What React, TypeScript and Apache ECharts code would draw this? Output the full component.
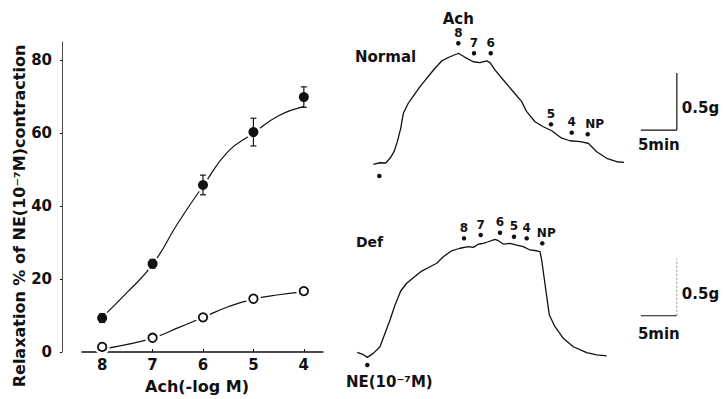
import React, { useEffect, useRef } from "react";
import * as echarts from "echarts";

// Dose–response: Ach concentration (-log M) vs relaxation (% of NE contraction)
const doses = [8, 7, 6, 5, 4];
const normalRelax = [9.3, 24.2, 45.8, 60.3, 69.9];
const normalSem = [1.2, 1.2, 2.7, 3.8, 2.8];
const defRelax = [1.4, 3.9, 9.5, 14.6, 16.7];
const defSem = [0.6, 0.8, 0.9, 0.8, 0.8];

// Fitted curves
const fitDoses = [8, 7.5, 7, 6.5, 6, 5.5, 5, 4.5, 4];
const normalFit = [9.5, 16.4, 24.0, 35.3, 45.5, 55.0, 60.0, 64.8, 67.3];
const defFit = [0.8, 2.1, 3.8, 6.6, 9.5, 12.4, 14.5, 15.7, 16.5];

const yTicks = [0, 20, 40, 60, 80];

// Tension recordings (time in min, tension in g)
const normalTime = [2.54, 3.47, 4.26, 4.86, 5.42, 5.88, 6.35, 6.71, 7.4, 8.19, 9.03, 9.96, 11.11, 12.04, 13.19, 14.13, 14.35, 15.28, 16.43, 17.36, 18.29, 18.75, 19.44, 20.6, 21.99, 23.15, 23.85, 25.0, 26.15, 27.32, 28.71, 29.86, 31.25, 32.4, 33.57, 34.96, 36.35, 37.36];
const normalForce = [0.225, 0.239, 0.237, 0.278, 0.336, 0.424, 0.541, 0.673, 0.761, 0.833, 0.906, 0.98, 1.068, 1.132, 1.169, 1.193, 1.199, 1.164, 1.125, 1.117, 1.132, 1.117, 1.053, 0.965, 0.862, 0.775, 0.687, 0.599, 0.555, 0.52, 0.454, 0.432, 0.424, 0.41, 0.336, 0.278, 0.248, 0.243];

const defTime = [0.32, 1.07, 1.71, 2.54, 3.47, 4.17, 4.86, 5.56, 6.35, 7.18, 8.1, 9.26, 10.42, 11.35, 12.26, 13.43, 14.58, 15.74, 16.43, 17.13, 17.82, 18.51, 19.44, 19.9, 20.6, 21.53, 22.46, 23.38, 24.31, 25.24, 25.69, 25.93, 26.25, 26.63, 26.99, 27.78, 28.93, 30.32, 32.18, 33.57, 34.96];
const defForce = [0.155, 0.138, 0.111, 0.146, 0.204, 0.322, 0.439, 0.57, 0.693, 0.761, 0.81, 0.868, 0.906, 0.936, 0.994, 1.046, 1.068, 1.082, 1.076, 1.103, 1.111, 1.125, 1.146, 1.134, 1.105, 1.111, 1.096, 1.082, 1.053, 1.046, 1.038, 0.965, 0.818, 0.643, 0.482, 0.38, 0.278, 0.204, 0.152, 0.132, 0.123];

// Drug additions on each recording
const doseLabels = ["8", "7", "6", "5", "4", "NP"];
const normalDoseTime = [14.35, 16.53, 18.85, 27.22, 30.1, 32.32];
const normalDoseForce = [1.287, 1.199, 1.199, 0.576, 0.503, 0.489];
const defDoseTime = [15.14, 17.46, 20.14, 22.08, 23.85, 26.01];
const defDoseForce = [1.155, 1.184, 1.204, 1.169, 1.155, 1.111];
const normalNe = [3.38, 0.123];
const defNe = [1.71, 0.044];

// Calibration bars
const barMinutes = 5;
const barGrams = 0.5;

const INK = "#111111";
const FONT = "DejaVu Sans";

const txt = (size: number) => ({
  fontFamily: FONT,
  fontSize: size,
  fontWeight: "bold" as const,
  color: INK,
});

function errorBars(values: number[], sems: number[]) {
  return {
    type: "custom",
    xAxisIndex: 0,
    yAxisIndex: 0,
    z: 4,
    data: doses.map((d, i) => [d, values[i], sems[i]]),
    encode: { x: 0, y: 1 },
    renderItem: (_p: any, api: any) => {
      const x = api.value(0);
      const y = api.value(1);
      const e = api.value(2);
      const top = api.coord([x, y + e]);
      const bot = api.coord([x, y - e]);
      const w = 3;
      const style = { stroke: INK, lineWidth: 1.2 };
      return {
        type: "group",
        children: [
          { type: "line", shape: { x1: top[0], y1: top[1], x2: bot[0], y2: bot[1] }, style },
          { type: "line", shape: { x1: top[0] - w, y1: top[1], x2: top[0] + w, y2: top[1] }, style },
          { type: "line", shape: { x1: bot[0] - w, y1: bot[1], x2: bot[0] + w, y2: bot[1] }, style },
        ],
      };
    },
  };
}

function doseMarks(times: number[], forces: number[], gi: number, npShift: number, withAch: boolean) {
  return {
    type: "scatter",
    xAxisIndex: gi,
    yAxisIndex: gi,
    symbol: "circle",
    symbolSize: 4.5,
    itemStyle: { color: INK, opacity: 1 },
    z: 5,
    data: times.map((t, i) => ({
      name: doseLabels[i],
      value: [t, forces[i]],
      label: doseLabels[i] === "NP" ? { offset: [npShift, 0] } : undefined,
    })),
    label: {
      show: true,
      position: "top",
      distance: 2,
      ...txt(12),
      lineHeight: 12,
      formatter: (p: any) =>
        withAch && p.name === "8" ? "{ach|Ach}\n{num|8}" : p.name,
      rich: {
        ach: { ...txt(15), lineHeight: 17 },
        num: { ...txt(12), lineHeight: 12 },
      },
    },
  };
}

function calibration(gi: number, origin: number[], dottedVertical: boolean, minGap: number) {
  const [t0, g0] = origin;
  const t1 = t0 + barMinutes;
  const g1 = g0 + barGrams;
  const solid = { color: INK, width: 1.2 };
  return [
    {
      type: "line",
      xAxisIndex: gi,
      yAxisIndex: gi,
      symbol: "none",
      lineStyle: solid,
      data: [[t0, g0], [t1, g0]],
    },
    {
      type: "line",
      xAxisIndex: gi,
      yAxisIndex: gi,
      symbol: "none",
      lineStyle: dottedVertical
        ? { color: "#8a8a8a", width: 1, type: [2, 2] }
        : solid,
      data: [[t1, g0], [t1, g1]],
    },
    {
      type: "scatter",
      xAxisIndex: gi,
      yAxisIndex: gi,
      symbolSize: 0,
      itemStyle: { opacity: 1 },
      data: [
        {
          value: [(t0 + t1) / 2, g0],
          label: { show: true, position: "bottom", distance: minGap, formatter: "5min", ...txt(15) },
        },
        {
          value: [t1, g0 + barGrams * 0.38],
          label: { show: true, position: "right", distance: 5, formatter: "0.5g", ...txt(15) },
        },
      ],
    },
  ];
}

const traceAxisX = (gi: number) => ({
  gridIndex: gi,
  type: "value",
  min: 0,
  max: 50,
  show: false,
});
const traceAxisY = (gi: number) => ({
  gridIndex: gi,
  type: "value",
  min: 0,
  max: 1.5,
  show: false,
});

const option: any = {
  animation: false,
  backgroundColor: "#ffffff",
  title: [
    { text: "Normal", left: 355, top: 49, padding: 0, textStyle: txt(15) },
    { text: "Def", left: 356, top: 235, padding: 0, textStyle: txt(14) },
  ],
  graphic: [
    {
      type: "text",
      x: 19,
      y: 216,
      rotation: Math.PI / 2,
      style: {
        text: "Relaxation % of NE(10⁻⁷M)contraction",
        fontFamily: FONT,
        fontSize: 16,
        fontWeight: "bold",
        fill: INK,
        align: "center",
        verticalAlign: "middle",
      },
    },
  ],
  grid: [
    { left: 82, top: 42, width: 241, height: 315.7 },
    { left: 355, top: 19, width: 360, height: 171 },
    { left: 355, top: 199, width: 360, height: 171 },
  ],
  xAxis: [
    {
      gridIndex: 0,
      type: "value",
      min: 3.62,
      max: 8.4,
      inverse: true,
      name: "Ach(-log M)",
      nameLocation: "middle",
      nameGap: 26,
      nameTextStyle: { ...txt(16), padding: [0, 11, 0, 0] },
      axisLine: { lineStyle: { color: INK, width: 1.5 } },
      axisTick: { inside: true, length: 3, customValues: doses, lineStyle: { color: INK } },
      axisLabel: { customValues: doses, margin: 5, ...txt(15) },
      splitLine: { show: false },
    },
    traceAxisX(1),
    traceAxisX(2),
  ],
  yAxis: [
    {
      gridIndex: 0,
      type: "value",
      min: 0,
      max: 85,
      offset: 20,
      axisLine: { show: true, lineStyle: { color: "#4a4a4a", width: 1 } },
      axisTick: { show: true, length: 2, customValues: yTicks, lineStyle: { color: INK } },
      axisLabel: { customValues: yTicks, margin: 10, ...txt(15) },
      splitLine: { show: false },
    },
    traceAxisY(1),
    traceAxisY(2),
  ],
  series: [
    {
      type: "line",
      xAxisIndex: 0,
      yAxisIndex: 0,
      smooth: true,
      symbol: "none",
      z: 2,
      lineStyle: { color: INK, width: 1.2 },
      data: fitDoses.map((d, i) => [d, normalFit[i]]),
    },
    {
      type: "line",
      xAxisIndex: 0,
      yAxisIndex: 0,
      smooth: true,
      symbol: "none",
      z: 2,
      lineStyle: { color: INK, width: 1.2 },
      data: fitDoses.map((d, i) => [d, defFit[i]]),
    },
    {
      type: "scatter",
      xAxisIndex: 0,
      yAxisIndex: 0,
      symbol: "circle",
      symbolSize: 15,
      z: 3,
      itemStyle: { color: "#ffffff", opacity: 1 },
      silent: true,
      data: [
        ...doses.map((d, i) => [d, normalRelax[i]]),
        ...doses.map((d, i) => [d, defRelax[i]]),
      ],
    },
    errorBars(normalRelax, normalSem),
    errorBars(defRelax, defSem),
    {
      type: "scatter",
      xAxisIndex: 0,
      yAxisIndex: 0,
      symbol: "circle",
      symbolSize: 10,
      z: 5,
      itemStyle: { color: INK, opacity: 1 },
      data: doses.map((d, i) => [d, normalRelax[i]]),
    },
    {
      type: "scatter",
      xAxisIndex: 0,
      yAxisIndex: 0,
      symbol: "circle",
      symbolSize: 8.5,
      z: 5,
      itemStyle: { color: "#ffffff", borderColor: INK, borderWidth: 1.8, opacity: 1 },
      data: doses.map((d, i) => [d, defRelax[i]]),
    },
    // Recordings
    {
      type: "line",
      xAxisIndex: 1,
      yAxisIndex: 1,
      symbol: "none",
      lineStyle: { color: INK, width: 1.3 },
      data: normalTime.map((t, i) => [t, normalForce[i]]),
    },
    {
      type: "line",
      xAxisIndex: 2,
      yAxisIndex: 2,
      symbol: "none",
      lineStyle: { color: INK, width: 1.3 },
      data: defTime.map((t, i) => [t, defForce[i]]),
    },
    doseMarks(normalDoseTime, normalDoseForce, 1, 7, true),
    doseMarks(defDoseTime, defDoseForce, 2, 4, false),
    {
      type: "scatter",
      xAxisIndex: 1,
      yAxisIndex: 1,
      symbolSize: 4.5,
      itemStyle: { color: INK, opacity: 1 },
      data: [normalNe],
    },
    {
      type: "scatter",
      xAxisIndex: 2,
      yAxisIndex: 2,
      symbolSize: 4.5,
      itemStyle: { color: INK, opacity: 1 },
      data: [defNe],
      label: {
        show: true,
        position: "bottom",
        distance: 7,
        offset: [22, 0],
        formatter: "NE(10⁻⁷M)",
        ...txt(15),
      },
    },
    ...calibration(1, [39.7, 0.526], false, 7),
    ...calibration(2, [39.7, 0.476], true, 11),
  ],
};

export default function App() {
  const ref = useRef<HTMLDivElement>(null);
  useEffect(() => {
    document.body.style.margin = "0";
    const chart = echarts.init(ref.current!, null, { renderer: "svg" });
    chart.setOption(option);
    return () => chart.dispose();
  }, []);
  return <div ref={ref} style={{ width: 723, height: 399 }} />;
}
